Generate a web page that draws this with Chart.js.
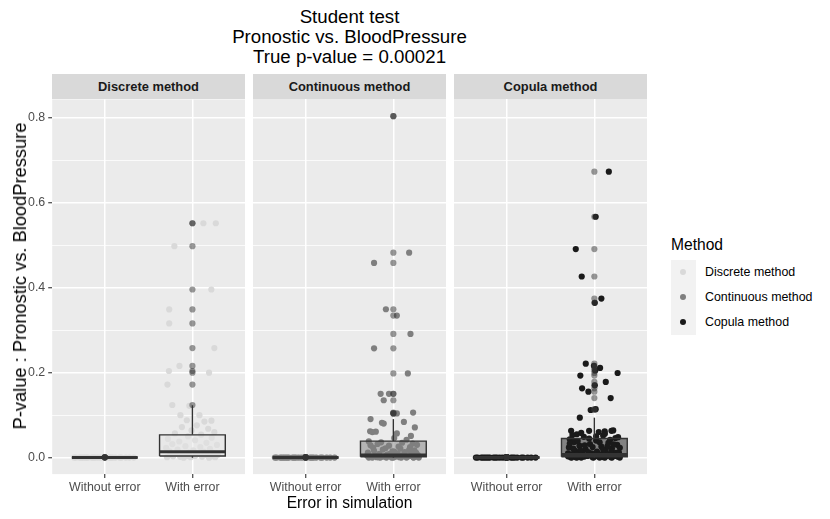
<!DOCTYPE html>
<html>
<head>
<meta charset="utf-8">
<script src="https://cdn.jsdelivr.net/npm/chart.js@4.4.0/dist/chart.umd.min.js"></script>
<style>
  body { margin: 0; background: #ffffff; font-family: "Liberation Sans", Arial, sans-serif; }
  #wrap { position: relative; width: 830px; height: 519px; overflow: hidden; }
  .txt { position: absolute; white-space: nowrap; }
  .strip { position: absolute; top: 74px; height: 25px; width: 193px; background: #d9d9d9;
           font-weight: bold; font-size: 12.9px; line-height: 25px; text-align: center; color: #1a1a1a; }
  canvas { position: absolute; }
  .key { position: absolute; width: 6px; height: 6px; border-radius: 50%; }
</style>
</head>
<body>
<div id="wrap">
  <div class="txt" style="left:52px;width:595px;top:7px;text-align:center;font-size:18.7px;line-height:20px;color:#000;">
    Student test<br>Pronostic vs. BloodPressure<br>True p-value = 0.00021
  </div>

  <div class="strip" style="left:52px;">Discrete method</div>
  <div class="strip" style="left:253px;">Continuous method</div>
  <div class="strip" style="left:454px;">Copula method</div>

  <canvas id="panel0"></canvas>
  <canvas id="panel1"></canvas>
  <canvas id="panel2"></canvas>

  <div class="txt" style="left:20px;top:276px;font-size:18.3px;transform:translate(-50%,-50%) rotate(-90deg);">P-value : Pronostic vs. BloodPressure</div>
  <div class="txt" style="left:52px;width:595px;top:494px;text-align:center;font-size:15.6px;line-height:18px;">Error in simulation</div>

  <!-- legend -->
  <div class="txt" style="left:671px;top:236px;font-size:15.6px;line-height:18px;">Method</div>
  <div style="position:absolute;left:671px;top:260px;width:25px;height:75px;background:#f2f2f2;"></div>
  <div class="key" style="left:680px;top:269px;background:#d9d9d9;"></div>
  <div class="key" style="left:680px;top:294px;background:#7f7f7f;"></div>
  <div class="key" style="left:680px;top:319px;background:#1a1a1a;"></div>
  <div class="txt" style="left:705px;top:265px;font-size:12.4px;line-height:15px;">Discrete method</div>
  <div class="txt" style="left:705px;top:290px;font-size:12.4px;line-height:15px;">Continuous method</div>
  <div class="txt" style="left:705px;top:315px;font-size:12.4px;line-height:15px;">Copula method</div>
</div>

<script>
// ---- data ----
const categories = ['Without error', 'With error'];
const methods = ['Discrete method', 'Continuous method', 'Copula method'];
const yTicks = [0, 0.1, 0.2, 0.3, 0.4, 0.5, 0.6, 0.7, 0.8];
const yTickLabels = ['0.0', '', '0.2', '', '0.4', '', '0.6', '', '0.8'];

// "Without error": every simulation sits near the true p-value
const withoutValues = [0.0002, 0.0002, 0.0002, 0.0008, 0.0002, 0.0002, 0.0002, 0.0002, 0.0002, 0.0008,
                       0.0002, 0.0002, 0.0008, 0.0002, 0.0002, 0.0002, 0.0002, 0.0008, 0.0002, 0.0002,
                       0.0002, 0.0002, 0.0008, 0.0002, 0.0002, 0.0002, 0.0008, 0.0002, 0.0002, 0.0002];
const withoutJitter = [-0.35, 0.12, -0.21, 0.00, -0.08, 0.24, -0.29, 0.05, -0.15, 0.00,
                       -0.02, 0.19, 0.00, 0.09, -0.25, 0.28, -0.11, 0.00, -0.19, 0.33,
                       0.01, -0.27, 0.00, -0.05, 0.07, -0.33, 0.00, -0.13, 0.17, -0.23];

// "With error"
const discreteValues = [0.552, 0.552, 0.498, 0.396, 0.349, 0.316, 0.258, 0.216, 0.204, 0.200,
                        0.172, 0.124, 0.122, 0.100, 0.100, 0.088, 0.087, 0.085, 0.076, 0.072,
                        0.068, 0.064, 0.060, 0.057, 0.054, 0.050, 0.047, 0.044, 0.041, 0.038,
                        0.035, 0.032, 0.030, 0.027, 0.025, 0.023, 0.021, 0.019, 0.017, 0.015,
                        0.014, 0.012, 0.011, 0.010, 0.009, 0.008, 0.007, 0.006, 0.005, 0.004,
                        0.004, 0.003, 0.003, 0.002, 0.002, 0.001, 0.001, 0.001, 0.000, 0.000];
const discreteJitter = [0.125, 0.267, -0.206, 0.216, -0.265, -0.265, 0.250, -0.148, -0.268, 0.190,
                        -0.285, -0.230, -0.035, -0.137, 0.080, -0.064, 0.217, 0.137, 0.050, -0.120,
                        0.180, -0.010, 0.250, -0.200, 0.100, -0.050, 0.220, -0.280, 0.030, -0.150,
                        0.160, -0.230, 0.280, -0.080, 0.090, -0.300, 0.200, -0.170, 0.010, -0.260,
                        0.130, -0.040, 0.240, -0.190, 0.060, -0.110, 0.290, -0.250, 0.170, -0.060,
                        0.030, -0.220, 0.220, -0.140, 0.110, -0.290, 0.260, -0.020, 0.190, -0.100];

const continuousValues = [0.803, 0.482, 0.458, 0.349, 0.334, 0.291, 0.257, 0.198, 0.150, 0.150,
                          0.135, 0.104, 0.104, 0.106, 0.0906, 0.084, 0.082, 0.080, 0.071, 0.062,
                          0.061, 0.060, 0.057, 0.051, 0.046, 0.042, 0.038, 0.035, 0.032, 0.030,
                          0.028, 0.025, 0.023, 0.021, 0.019, 0.017, 0.015, 0.013, 0.012, 0.010,
                          0.009, 0.008, 0.007, 0.006, 0.005, 0.004, 0.004, 0.003, 0.003, 0.002,
                          0.002, 0.001, 0.001, 0.001, 0.000, 0.000, 0.000, 0.000, 0.000, 0.000,
                          0.036, 0.033, 0.029, 0.026, 0.022, 0.018, 0.016, 0.014, 0.011, 0.009,
                          0.007, 0.005, 0.004, 0.003, 0.002, 0.001, 0.000, 0.000, 0.000, 0.000];
const continuousJitter = [0.000, 0.180, -0.220, -0.085, 0.040, 0.195, -0.220, 0.165, -0.145, -0.050,
                          -0.110, 0.040, 0.000, 0.225, -0.260, 0.120, -0.130, -0.110, 0.245, -0.265,
                          -0.200, -0.240, 0.040, 0.200, 0.010, 0.150, -0.280, 0.100, -0.180, 0.270,
                          -0.050, 0.190, -0.230, 0.080, -0.120, 0.240, -0.010, 0.130, -0.290, 0.050,
                          -0.160, 0.210, -0.070, 0.280, -0.210, 0.100, -0.030, 0.170, -0.260, 0.020,
                          -0.130, 0.230, -0.190, 0.070, -0.280, 0.150, -0.080, 0.290, -0.240, 0.000,
                          -0.140, 0.220, -0.260, 0.060, -0.090, 0.180, -0.220, 0.010, 0.260, -0.040,
                          0.120, -0.300, 0.200, -0.100, 0.280, -0.170, 0.090, -0.020, 0.230, -0.150];

const copulaValues = [0.6725, 0.5666, 0.4906, 0.426, 0.374, 0.364, 0.221, 0.216, 0.211, 0.205,
                      0.199, 0.193, 0.178, 0.170, 0.163, 0.155, 0.140, 0.114, 0.112, 0.094,
                      0.063, 0.063, 0.062, 0.063, 0.064, 0.060, 0.055, 0.052, 0.049, 0.046,
                      0.043, 0.040, 0.037, 0.035, 0.032, 0.030, 0.028, 0.026, 0.024, 0.022,
                      0.020, 0.018, 0.016, 0.014, 0.013, 0.012, 0.010, 0.009, 0.008, 0.007,
                      0.006, 0.005, 0.004, 0.004, 0.003, 0.003, 0.002, 0.002, 0.001, 0.001,
                      0.001, 0.000, 0.000, 0.000, 0.000, 0.000,
                      0.058, 0.056, 0.053, 0.050, 0.048, 0.045, 0.042, 0.039, 0.036, 0.033,
                      0.031, 0.029, 0.027, 0.025, 0.023, 0.021, 0.019, 0.017, 0.015, 0.013,
                      0.011, 0.010, 0.008, 0.007, 0.006, 0.005, 0.004, 0.003, 0.002, 0.001,
                      0.001, 0.000, 0.000, 0.000];
const copulaJitter = [0.165, 0.015, -0.212, -0.144, 0.080, 0.005, -0.098, -0.005, 0.065, 0.010,
                      0.265, -0.160, 0.130, 0.005, -0.140, -0.068, 0.186, 0.015, -0.042, -0.166,
                      -0.265, -0.060, 0.118, 0.195, 0.215, 0.050, -0.200, 0.100, -0.120, 0.240,
                      -0.280, 0.020, -0.230, 0.160, -0.050, 0.260, -0.170, 0.080, -0.290, 0.200,
                      -0.100, 0.130, -0.220, 0.030, -0.140, 0.280, -0.030, 0.180, -0.250, 0.090,
                      -0.180, 0.230, -0.080, 0.140, -0.300, 0.040, -0.120, 0.270, -0.210, 0.110,
                      -0.020, 0.200, -0.260, 0.060, -0.150, 0.290,
                      -0.150, 0.120, -0.250, 0.020, 0.270, -0.060, 0.180, -0.190, 0.060, -0.280,
                      0.220, -0.110, 0.150, -0.020, 0.290, -0.240, 0.100, -0.160, 0.200, -0.070,
                      0.250, -0.300, 0.050, -0.200, 0.160, -0.040, 0.240, -0.170, 0.080, -0.270,
                      0.190, -0.010, 0.120, -0.200];

// box statistics per panel: [Without error, With error]
const boxLo  = [[0.0002, 0.000], [0.0002, 0.000], [0.0002, 0.000]];
const boxQ1  = [[0.0002, 0.004], [0.0002, 0.002], [0.0002, 0.002]];
const boxMed = [[0.0002, 0.0137], [0.0002, 0.006], [0.0002, 0.0075]];
const boxQ3  = [[0.0002, 0.0537], [0.0002, 0.0388], [0.0002, 0.045]];
const boxHi  = [[0.0002, 0.1235], [0.0002, 0.0906], [0.0002, 0.094]];

const withValues = [discreteValues, continuousValues, copulaValues];
const withJitter = [discreteJitter, continuousJitter, copulaJitter];

// ---- look ----
const PANEL_LEFT = [52, 253, 454];
const PANEL_TOP = 99, PANEL_W = 193, PANEL_H = 375;
const Y_MIN = -0.0388, Y_MAX = 0.8435;
const BOX_W = 0.75;
const METHOD_COLORS = ['#d9d9d9', '#7f7f7f', '#1a1a1a'];
const BOX_FILLS = ['rgba(229,229,229,0.5)', 'rgba(127,127,127,0.5)', 'rgba(26,26,26,0.5)'];
const OUTLIER_COLOR = 'rgba(51,51,51,0.5)';
const INK = '#333333';

Chart.defaults.font.family = '"Liberation Sans", Arial, sans-serif';

const panelBg = {
    id: 'panelBg',
    beforeDraw(chart) {
        const { ctx, chartArea: a } = chart;
        ctx.save();
        ctx.fillStyle = '#ebebeb';
        ctx.fillRect(a.left, a.top, a.right - a.left, a.bottom - a.top);
        ctx.restore();
    }
};

function lineSet(data, width, order, extra) {
    return Object.assign({
        type: 'line', data: data, borderColor: INK, borderWidth: width,
        pointRadius: 0, tension: 0, fill: false, order: order
    }, extra || {});
}

function panelConfig(p) {
    const datasets = [];
    [withoutValues, withValues[p]].forEach((vals, c) => {
        const jit = c === 0 ? withoutJitter : withJitter[p];
        const x = c + 1, h = BOX_W / 2;
        const lo = boxLo[p][c], q1 = boxQ1[p][c], med = boxMed[p][c], q3 = boxQ3[p][c], hi = boxHi[p][c];

        // jittered raw points
        datasets.push({
            type: 'scatter', order: 10,
            data: vals.map((v, i) => ({ x: x + jit[i], y: v })),
            backgroundColor: METHOD_COLORS[p], borderWidth: 0, pointRadius: 3.1
        });
        // whiskers
        datasets.push(lineSet([{ x: x, y: q3 }, { x: x, y: hi }], 1.4, 4));
        datasets.push(lineSet([{ x: x, y: lo }, { x: x, y: q1 }], 1.4, 4));
        // box
        datasets.push(lineSet([{ x: x - h, y: q1 }, { x: x + h, y: q1 }, { x: x + h, y: q3 },
                               { x: x - h, y: q3 }, { x: x - h, y: q1 }], 1.4, 3,
                              { fill: 'shape', backgroundColor: BOX_FILLS[p] }));
        // median
        datasets.push(lineSet([{ x: x - h, y: med }, { x: x + h, y: med }], 3, 2));
        // outliers
        datasets.push({
            type: 'scatter', order: 1,
            data: vals.filter(v => v < lo || v > hi).map(v => ({ x: x, y: v })),
            backgroundColor: OUTLIER_COLOR, borderWidth: 0, pointRadius: 3.1
        });
    });

    return {
        type: 'scatter',
        data: { datasets: datasets },
        options: {
            responsive: false,
            animation: false,
            events: [],
            layout: { padding: 0 },
            plugins: { legend: { display: false }, tooltip: { enabled: false }, title: { display: false } },
            scales: {
                x: {
                    type: 'linear', min: 0.4, max: 2.6,
                    afterBuildTicks: s => { s.ticks = [{ value: 1 }, { value: 2 }]; },
                    ticks: {
                        callback: (v, i) => categories[i], color: '#4d4d4d',
                        font: { size: 12.4 }, padding: 2, autoSkip: false, maxRotation: 0
                    },
                    grid: { color: '#ffffff', lineWidth: 1.5, tickColor: INK, tickLength: 4, tickWidth: 1.1 },
                    border: { display: false }
                },
                y: {
                    type: 'linear', min: Y_MIN, max: Y_MAX,
                    afterBuildTicks: s => { s.ticks = yTicks.map(v => ({ value: v })); },
                    ticks: {
                        display: p === 0, callback: (v, i) => yTickLabels[i], color: '#4d4d4d',
                        font: { size: 12.4 }, padding: 3, autoSkip: false
                    },
                    grid: {
                        color: '#ffffff',
                        lineWidth: c => (c.index % 2 ? 0.75 : 1.5),
                        drawTicks: p === 0, tickLength: 4, tickWidth: 1.1,
                        tickColor: c => (c.index % 2 ? 'rgba(0,0,0,0)' : INK)
                    },
                    border: { display: false }
                }
            }
        },
        plugins: [panelBg]
    };
}

// build each panel, then size/move its canvas so the plot area lands on the panel rectangle
function buildPanel(p) {
    const canvas = document.getElementById('panel' + p);
    canvas.width = PANEL_W + 80;
    canvas.height = PANEL_H + 60;
    let chart = new Chart(canvas, panelConfig(p));
    const a = chart.chartArea;
    const padL = a.left, padT = a.top;
    const padR = chart.width - a.right, padB = chart.height - a.bottom;
    chart.destroy();

    canvas.width = Math.round(PANEL_W + padL + padR);
    canvas.height = Math.round(PANEL_H + padT + padB);
    canvas.style.left = Math.round(PANEL_LEFT[p] - padL) + 'px';
    canvas.style.top = Math.round(PANEL_TOP - padT) + 'px';
    chart = new Chart(canvas, panelConfig(p));
}

[0, 1, 2].forEach(buildPanel);
</script>
</body>
</html>
